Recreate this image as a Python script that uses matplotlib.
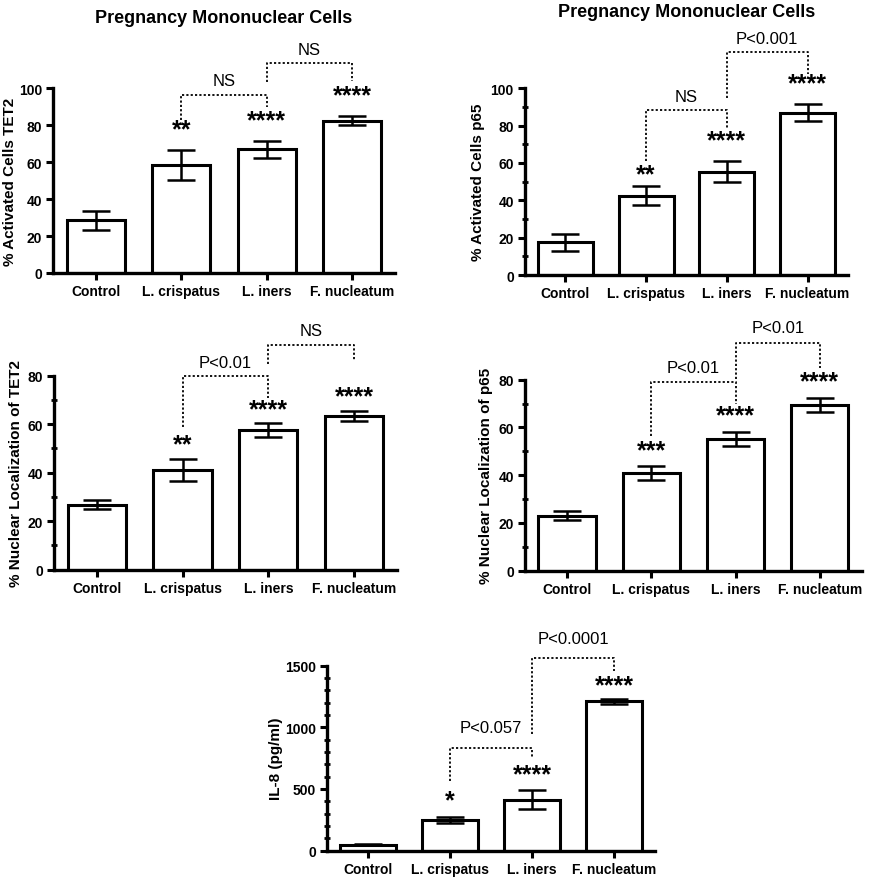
import numpy as np
import matplotlib
matplotlib.use("Agg")
import matplotlib.pyplot as plt
from matplotlib.ticker import MultipleLocator

plt.rcParams['font.family'] = ['Liberation Sans', 'DejaVu Sans']

groups = ["Control", "L. crispatus", "L. iners", "F. nucleatum"]

# panel A: % activated cells TET2
tet2_act = [28.5, 58.5, 67.0, 82.5]
tet2_act_err = [5.0, 8.2, 4.7, 2.3]
tet2_act_stars = ["", "**", "****", "****"]
tet2_act_star_y = [0, 78, 82.5, 96]
tet2_act_br = [(1, 2, 96.5, 83, 90, "NS", 104), (2, 3, 113.7, 103.6, 104, "NS", 121)]

# panel B: % activated cells p65
p65_act = [17.5, 42.5, 55.3, 87.0]
p65_act_err = [4.4, 5.2, 5.6, 4.6]
p65_act_stars = ["", "**", "****", "****"]
p65_act_star_y = [0, 54, 72, 102.7]
p65_act_br = [(1, 2, 88.6, 61.3, 79, "NS", 95.5), (2, 3, 119.6, 95, 107.7, "P<0.001", 126.8)]

# panel C: nuclear localization TET2
tet2_nuc = [26.8, 41.2, 57.7, 63.5]
tet2_nuc_err = [1.9, 4.6, 2.8, 2.1]
tet2_nuc_stars = ["", "**", "****", "****"]
tet2_nuc_star_y = [0, 51.8, 66.3, 71.5]
tet2_nuc_br = [(1, 2, 80, 58.7, 71, "P<0.01", 85.5), (2, 3, 92.6, 84.8, 86.2, "NS", 98.6)]

# panel D: nuclear localization p65
p65_nuc = [23.0, 40.9, 55.2, 69.4]
p65_nuc_err = [1.9, 3.0, 3.1, 3.0]
p65_nuc_stars = ["", "***", "****", "****"]
p65_nuc_star_y = [0, 50.3, 64.9, 79.2]
p65_nuc_br = [(1, 2, 78.9, 56.6, 69.8, "P<0.01", 85.2), (2, 3, 95.4, 80.3, 84.8, "P<0.01", 102)]

# panel E: IL-8
il8 = [48, 249, 411, 1211]
il8_err = [5, 27, 77, 20]
il8_stars = ["", "*", "****", "****"]
il8_star_y = [0, 405, 622, 1338]
il8_br = [(1, 2, 832, 567, 749, "P<0.057", 1000), (2, 3, 1559, 946, 1459, "P<0.0001", 1716)]

fig = plt.figure(figsize=(8.69, 8.79), dpi=100)


def panel(rect, vals, errs, stars, star_y, brackets, ylab, ymax, major, minor, labx):
    ax = fig.add_axes(rect)
    x = np.arange(len(groups))
    ax.bar(x, vals, width=0.68, color="white", edgecolor="black", linewidth=2.2, zorder=2)
    ax.errorbar(x, vals, yerr=errs, fmt="none", ecolor="black", elinewidth=1.8,
                capsize=10, capthick=1.8, zorder=3)
    for xi, s, sy in zip(x, stars, star_y):
        if s:
            ax.text(xi, sy, s, ha="center", va="center", fontsize=18, fontweight="bold",
                    clip_on=False)
    for i, j, yh, yl, yr, lab, ty in brackets:
        ax.plot([i, i, j, j], [yl, yh, yh, yr], color="black", lw=1.3, ls=(0, (1.2, 1.2)),
                clip_on=False)
        ax.text((i + j) / 2, ty, lab, ha="center", va="center", fontsize=12, clip_on=False)
    ax.set_xlim(-0.5, 3.5)
    ax.set_ylim(0, ymax)
    ax.yaxis.set_major_locator(MultipleLocator(major))
    if minor:
        ax.yaxis.set_minor_locator(MultipleLocator(minor))
        ax.tick_params(axis="y", which="minor", direction="inout", length=5, width=2)
    ax.set_xticks(x)
    ax.set_xticklabels(groups)
    for sp in ["top", "right"]:
        ax.spines[sp].set_visible(False)
    for sp in ["left", "bottom"]:
        ax.spines[sp].set_linewidth(2.4)
    ax.tick_params(axis="both", which="major", length=5, width=2.2, labelsize=10, pad=3)
    for lab in ax.get_xticklabels() + ax.get_yticklabels():
        lab.set_fontweight("bold")
    ax.set_ylabel(ylab, fontsize=11, fontweight="bold")
    ax.yaxis.set_label_coords(labx, 0.5)
    return ax


ttl = "Pregnancy Mononuclear Cells"
a1 = panel([0.061, 0.6883, 0.3935, 0.2101], tet2_act, tet2_act_err, tet2_act_stars,
           tet2_act_star_y, tet2_act_br, "% Activated Cells TET2", 100, 20, None, -0.105)
a1.text(0.5, 1.386, ttl, transform=a1.transAxes, ha="center", va="center",
        fontsize=13, fontweight="bold")
a2 = panel([0.6041, 0.686, 0.3717, 0.2124], p65_act, p65_act_err, p65_act_stars,
           p65_act_star_y, p65_act_br, "% Activated Cells p65", 100, 20, 10, -0.124)
a2.text(0.5, 1.41, ttl, transform=a2.transAxes, ha="center", va="center",
        fontsize=13, fontweight="bold")
panel([0.0621, 0.3507, 0.3947, 0.2207], tet2_nuc, tet2_nuc_err, tet2_nuc_stars,
      tet2_nuc_star_y, tet2_nuc_br, "% Nuclear Localization of TET2", 80, 20, 10, -0.090)
panel([0.6041, 0.3496, 0.3878, 0.2173], p65_nuc, p65_nuc_err, p65_nuc_stars,
      p65_nuc_star_y, p65_nuc_br, "% Nuclear Localization of p65", 80, 20, 10, -0.095)
panel([0.3763, 0.0311, 0.3774, 0.2105], il8, il8_err, il8_stars,
      il8_star_y, il8_br, "IL-8 (pg/ml)", 1500, 500, 100, -0.134)

fig.savefig("out.png", dpi=100)
